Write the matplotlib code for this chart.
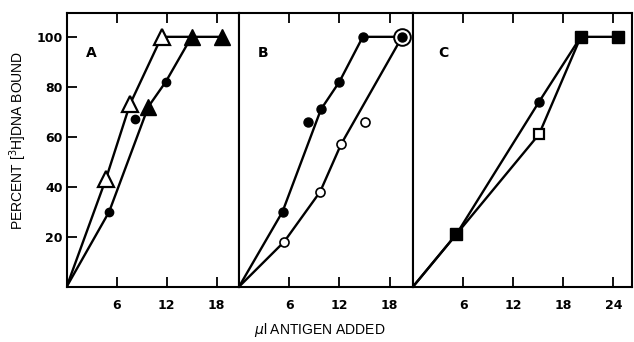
import matplotlib.pyplot as plt

# panel A
a_up_x = [0, 4.7, 7.6, 11.4, 15.0, 18.7]
a_up_y = [0, 43, 73, 100, 100, 100]
a_open_tri_x = [4.7, 7.6, 11.4]
a_open_tri_y = [43, 73, 100]
a_lo_x = [0, 5.1, 9.8, 11.9, 15.0]
a_lo_y = [0, 30, 72, 82, 100]
a_dot_x = [5.1, 8.2, 11.9]
a_dot_y = [30, 67, 82]
a_fill_tri_x = [9.8, 15.0, 18.7]
a_fill_tri_y = [72, 100, 100]

# panel B
b_fill_line_x = [0, 5.2, 9.8, 12.0, 14.8, 19.5]
b_fill_line_y = [0, 30, 71, 82, 100, 100]
b_dot_x = [5.2, 8.3, 9.8, 12.0, 14.8, 19.5]
b_dot_y = [30, 66, 71, 82, 100, 100]
b_open_line_x = [0, 5.4, 9.7, 12.2, 19.5]
b_open_line_y = [0, 18, 38, 57, 100]
b_open_x = [5.4, 9.7, 12.2, 15.1]
b_open_y = [18, 38, 57, 66]

# panel C
c_dot_line_x = [0, 5.2, 15.1, 20.1, 24.6]
c_dot_line_y = [0, 21, 74, 100, 100]
c_sq_line_x = [0, 5.2, 15.1, 20.1]
c_sq_line_y = [0, 21, 61, 100]
c_fill_sq_x = [5.2, 20.1, 24.6]
c_fill_sq_y = [21, 100, 100]

yticks = [20, 40, 60, 80, 100]

fig = plt.figure(figsize=(6.34, 3.42), dpi=100)
bot, h = 0.1617, 0.800
axA = fig.add_axes([0.1052, bot, 0.2718, h])
axB = fig.add_axes([0.3770, bot, 0.2744, h])
axC = fig.add_axes([0.6514, bot, 0.3450, h])

lw = 1.7
for ax, xmax, xt, lab in [(axA, 20.7, [6, 12, 18], 'A'),
                          (axB, 20.8, [6, 12, 18], 'B'),
                          (axC, 26.2, [6, 12, 18, 24], 'C')]:
    ax.set_xlim(0, xmax)
    ax.set_ylim(0, 109.5)
    ax.set_xticks(xt)
    ax.set_xticklabels([str(t) for t in xt], fontweight='bold', fontsize=9)
    ax.tick_params(axis='x', direction='in', top=True, length=7, width=1.3, pad=9)
    ax.set_yticks(yticks)
    if ax is axA:
        ax.set_yticklabels([str(t) for t in yticks], fontweight='bold', fontsize=9)
        ax.tick_params(axis='y', direction='in', length=7, width=1.3, pad=3)
    else:
        ax.tick_params(axis='y', left=False, labelleft=False)
    for s in ax.spines.values():
        s.set_linewidth(1.5)
    ax.text(0.14, 0.855, lab, transform=ax.transAxes,
            fontweight='bold', fontsize=10, ha='center', va='center')

# A
axA.plot(a_up_x, a_up_y, color='black', lw=lw, zorder=2)
axA.plot(a_lo_x, a_lo_y, color='black', lw=lw, zorder=2)
axA.plot(a_open_tri_x, a_open_tri_y, '^', ms=11, mfc='white', mec='black', mew=1.6, zorder=3)
axA.plot(a_dot_x, a_dot_y, 'o', ms=6, color='black', zorder=4)
axA.plot(a_fill_tri_x, a_fill_tri_y, '^', ms=11, color='black', zorder=3)

# B
axB.plot(b_fill_line_x, b_fill_line_y, color='black', lw=lw, zorder=2)
axB.plot(b_open_line_x, b_open_line_y, color='black', lw=lw, zorder=2)
axB.plot([b_dot_x[-1]], [b_dot_y[-1]], 'o', ms=12, mfc='white', mec='black', mew=1.4,
         zorder=3, clip_on=False)
axB.plot(b_dot_x, b_dot_y, 'o', ms=6.5, color='black', zorder=4, clip_on=False)
axB.plot(b_open_x, b_open_y, 'o', ms=6.5, mfc='white', mec='black', mew=1.2, zorder=4)

# C
axC.plot(c_dot_line_x, c_dot_line_y, color='black', lw=lw, zorder=2)
axC.plot(c_sq_line_x, c_sq_line_y, color='black', lw=lw, zorder=2)
axC.plot([c_dot_line_x[2]], [c_dot_line_y[2]], 'o', ms=6.5, color='black', zorder=4)
axC.plot([c_sq_line_x[2]], [c_sq_line_y[2]], 's', ms=7, mfc='white', mec='black', mew=1.6, zorder=4)
axC.plot(c_fill_sq_x, c_fill_sq_y, 's', ms=9, color='black', zorder=4)

fig.text(0.028, 0.59, 'PERCENT [$^3$H]DNA BOUND', rotation=90, ha='center', va='center',
         fontsize=10, family='Liberation Sans')
fig.text(0.505, 0.035, '$\\mu$l ANTIGEN ADDED', ha='center', va='center',
         fontsize=10, family='Liberation Sans')

fig.savefig('out.png', dpi=100)
